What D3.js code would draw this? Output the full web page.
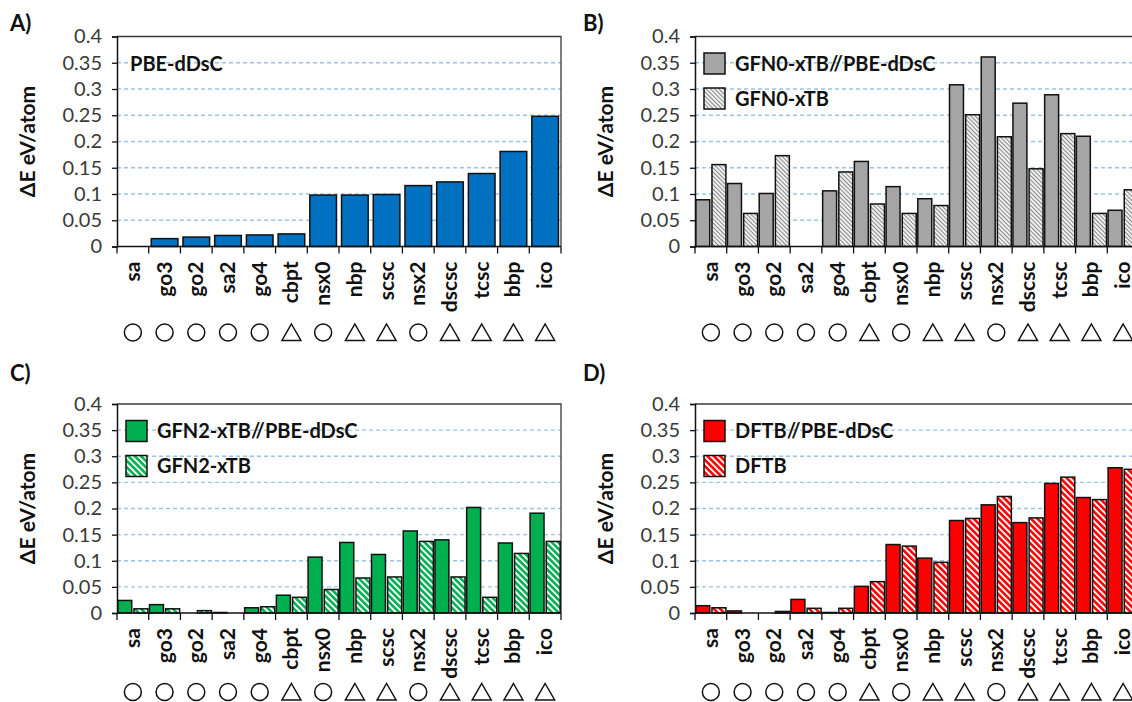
<!DOCTYPE html>
<html>
<head>
<meta charset="utf-8">
<script src="https://cdn.jsdelivr.net/npm/d3@7/dist/d3.min.js"></script>
<style>
  html, body { margin: 0; padding: 0; background: #fff; }
  svg { display: block; font-family: Lato, "Open Sans", sans-serif; }
</style>
</head>
<body>
<svg id="chart" width="1132" height="702"></svg>
<script>
// ---------------- data ----------------
const categories = ["sa","go3","go2","sa2","go4","cbpt","nsx0","nbp","scsc","nsx2","dscsc","tcsc","bbp","ico"];
const shapes = ["circle","circle","circle","circle","circle","triangle","circle","triangle","triangle","circle","triangle","triangle","triangle","triangle"];
const yTickValues = [0, 0.05, 0.1, 0.15, 0.2, 0.25, 0.3, 0.35, 0.4];
const yTickLabels = ["0","0.05","0.1","0.15","0.2","0.25","0.3","0.35","0.4"];

const pbeValues  = [0, 0.015, 0.018, 0.021, 0.022, 0.024, 0.098, 0.098, 0.099, 0.116, 0.123, 0.139, 0.181, 0.248];

const gfn0Single = [0.089, 0.120, 0.101, 0, 0.106, 0.162, 0.114, 0.091, 0.308, 0.361, 0.273, 0.289, 0.210, 0.069];
const gfn0Opt    = [0.156, 0.063, 0.173, 0, 0.142, 0.081, 0.063, 0.078, 0.251, 0.209, 0.148, 0.215, 0.063, 0.108];

const gfn2Single = [0.024, 0.016, 0, 0.001, 0.010, 0.034, 0.107, 0.135, 0.112, 0.157, 0.140, 0.202, 0.134, 0.191];
const gfn2Opt    = [0.008, 0.008, 0.0045, 0, 0.012, 0.030, 0.045, 0.067, 0.069, 0.137, 0.069, 0.030, 0.114, 0.137];

const dftbSingle = [0.014, 0.004, 0, 0.026, 0.001, 0.051, 0.131, 0.105, 0.177, 0.207, 0.173, 0.248, 0.221, 0.278];
const dftbOpt    = [0.010, 0, 0.003, 0.009, 0.009, 0.060, 0.128, 0.097, 0.181, 0.223, 0.182, 0.260, 0.217, 0.275];

const panelLabels = ["A)","B)","C)","D)"];
const yTitle = "ΔE eV/atom";

// ---------------- drawing ----------------
const svg = d3.select("#chart");
const defs = svg.append("defs");

function hatch(id, color, bg, spacing, width) {
  const p = defs.append("pattern")
    .attr("id", id)
    .attr("patternUnits", "userSpaceOnUse")
    .attr("width", spacing).attr("height", spacing)
    .attr("patternTransform", "rotate(-45)");
  p.append("rect").attr("width", spacing).attr("height", spacing).attr("fill", bg);
  p.append("line").attr("x1", spacing/2).attr("x2", spacing/2).attr("y1", 0).attr("y2", spacing)
    .attr("stroke", color).attr("stroke-width", width);
}
hatch("hatchGray", "#8a8a8a", "#f4f4f4", 3, 1.1);
hatch("hatchGreen", "#00B050", "#ffffff", 4.5, 2.6);
hatch("hatchRed", "#FF0000", "#ffffff", 4.5, 2.6);

const panels = [
  { label: panelLabels[0], lx: 10,  ly: 31,  left: 117, right: 561,  top: 36.5, bottom: 246.5, symOff: 86,
    series: [{ name: "PBE-dDsC", values: pbeValues, fill: "#0070C0" }], single: true },
  { label: panelLabels[1], lx: 583, ly: 31,  left: 695, right: 1139, top: 36.5, bottom: 246.5, symOff: 86,
    series: [{ name: "GFN0-xTB//PBE-dDsC", values: gfn0Single, fill: "#A5A5A5" },
             { name: "GFN0-xTB", values: gfn0Opt, fill: "url(#hatchGray)" }] },
  { label: panelLabels[2], lx: 10,  ly: 381, left: 117, right: 561,  top: 404, bottom: 613, symOff: 79,
    series: [{ name: "GFN2-xTB//PBE-dDsC", values: gfn2Single, fill: "#00B050" },
             { name: "GFN2-xTB", values: gfn2Opt, fill: "url(#hatchGreen)" }] },
  { label: panelLabels[3], lx: 583, ly: 381, left: 695, right: 1139, top: 404, bottom: 613, symOff: 79,
    series: [{ name: "DFTB//PBE-dDsC", values: dftbSingle, fill: "#FF0000" },
             { name: "DFTB", values: dftbOpt, fill: "url(#hatchRed)" }] }
];

panels.forEach(p => {
  const g = svg.append("g");
  const y = d3.scaleLinear().domain([0, 0.4]).range([p.bottom, p.top]);
  const x0 = d3.scaleBand().domain(categories).range([p.left, p.right]).paddingInner(0).paddingOuter(0);
  const step = x0.step();

  // gridlines
  g.append("g").selectAll("line")
    .data(yTickValues.filter(v => v > 0 && v < 0.4))
    .join("line")
    .attr("x1", p.left).attr("x2", p.right)
    .attr("y1", d => y(d)).attr("y2", d => y(d))
    .attr("stroke", "#9DC3E6").attr("stroke-width", 1.3).attr("stroke-dasharray", "4,3");

  // plot border (top + right)
  g.append("path")
    .attr("d", `M${p.left},${y(0.4)}H${p.right}V${p.bottom}`)
    .attr("fill", "none").attr("stroke", "#3a3a3a").attr("stroke-width", 1.3);

  // bars
  if (p.single) {
    const xs = d3.scaleBand().domain(categories).range([p.left, p.right]).paddingInner(0.16).paddingOuter(0.08);
    g.append("g").selectAll("rect")
      .data(categories.map((c, i) => ({ c, v: p.series[0].values[i] })).filter(d => d.v > 0))
      .join("rect")
      .attr("x", d => xs(d.c)).attr("width", xs.bandwidth())
      .attr("y", d => y(d.v)).attr("height", d => y(0) - y(d.v))
      .attr("fill", p.series[0].fill).attr("stroke", "#111").attr("stroke-width", 1.5);
  } else {
    const x1 = d3.scaleBand().domain([0, 1]).range([0, step]).paddingInner(0.137).paddingOuter(0.049);
    p.series.forEach((s, si) => {
      g.append("g").selectAll("rect")
        .data(categories.map((c, i) => ({ c, v: s.values[i] })).filter(d => d.v > 0))
        .join("rect")
        .attr("x", d => x0(d.c) + x1(si)).attr("width", x1.bandwidth())
        .attr("y", d => y(d.v)).attr("height", d => y(0) - y(d.v))
        .attr("fill", s.fill).attr("stroke", "#111").attr("stroke-width", 1.5);
    });
  }

  // y axis
  const yAxis = d3.axisLeft(y).tickValues(yTickValues)
    .tickFormat((d, i) => yTickLabels[i]).tickSize(5).tickPadding(10);
  const ya = g.append("g").attr("transform", `translate(${p.left},0)`).call(yAxis);
  ya.select(".domain").attr("stroke", "#111").attr("stroke-width", 1.5);
  ya.selectAll(".tick line").attr("stroke", "#111").attr("stroke-width", 1.3);
  ya.selectAll("text").attr("font-size", 20).attr("fill", "#3a3a3a").attr("font-family", "Lato, sans-serif");

  // x axis baseline and boundary ticks
  g.append("line").attr("x1", p.left).attr("x2", p.right)
    .attr("y1", y(0)).attr("y2", y(0)).attr("stroke", "#111").attr("stroke-width", 1.5);
  g.append("g").selectAll("line")
    .data(d3.range(categories.length + 1))
    .join("line")
    .attr("x1", i => p.left + i * step).attr("x2", i => p.left + i * step)
    .attr("y1", y(0)).attr("y2", y(0) + 7)
    .attr("stroke", "#111").attr("stroke-width", 1.3);

  // category labels
  g.append("g").selectAll("text")
    .data(categories)
    .join("text")
    .attr("transform", d => `translate(${x0(d) + step / 2 + 7},${p.bottom + 15}) rotate(-90)`)
    .attr("text-anchor", "end")
    .attr("font-size", 21).attr("font-weight", 700).attr("fill", "#111")
    .text(d => d);

  // shape markers
  const symY = p.bottom + p.symOff;
  const sg = g.append("g");
  categories.forEach((c, i) => {
    const cx = x0(c) + step / 2;
    if (shapes[i] === "circle") {
      sg.append("circle").attr("cx", cx).attr("cy", symY).attr("r", 8.5)
        .attr("fill", "none").attr("stroke", "#111").attr("stroke-width", 1.5);
    } else {
      sg.append("path")
        .attr("d", `M${cx},${symY - 8.5}L${cx + 9.5},${symY + 8}L${cx - 9.5},${symY + 8}Z`)
        .attr("fill", "none").attr("stroke", "#111").attr("stroke-width", 1.5);
    }
  });

  // y title
  g.append("text")
    .attr("transform", `translate(${p.left - 82},${(p.top + p.bottom) / 2}) rotate(-90)`)
    .attr("text-anchor", "middle")
    .attr("font-size", 21).attr("font-weight", 700).attr("fill", "#111")
    .text(yTitle);

  // panel label
  g.append("text").attr("x", p.lx).attr("y", p.ly)
    .attr("font-size", 22).attr("font-weight", 700).attr("fill", "#111")
    .text(p.label);

  // legend
  if (p.single) {
    g.append("text").attr("x", p.left + 13).attr("y", p.top + 34)
      .attr("font-size", 20).attr("font-weight", 700).attr("fill", "#111")
      .text(p.series[0].name);
  } else {
    p.series.forEach((s, si) => {
      const ty = p.top + 16.5 + si * 35;
      g.append("rect").attr("x", p.left + 9).attr("y", ty).attr("width", 21).attr("height", 21)
        .attr("fill", s.fill).attr("stroke", "#111").attr("stroke-width", 1.5);
      g.append("text").attr("x", p.left + 40).attr("y", ty + 17.5)
        .attr("font-size", 20).attr("font-weight", 700).attr("fill", "#111")
        .text(s.name);
    });
  }
});
</script>
</body>
</html>
